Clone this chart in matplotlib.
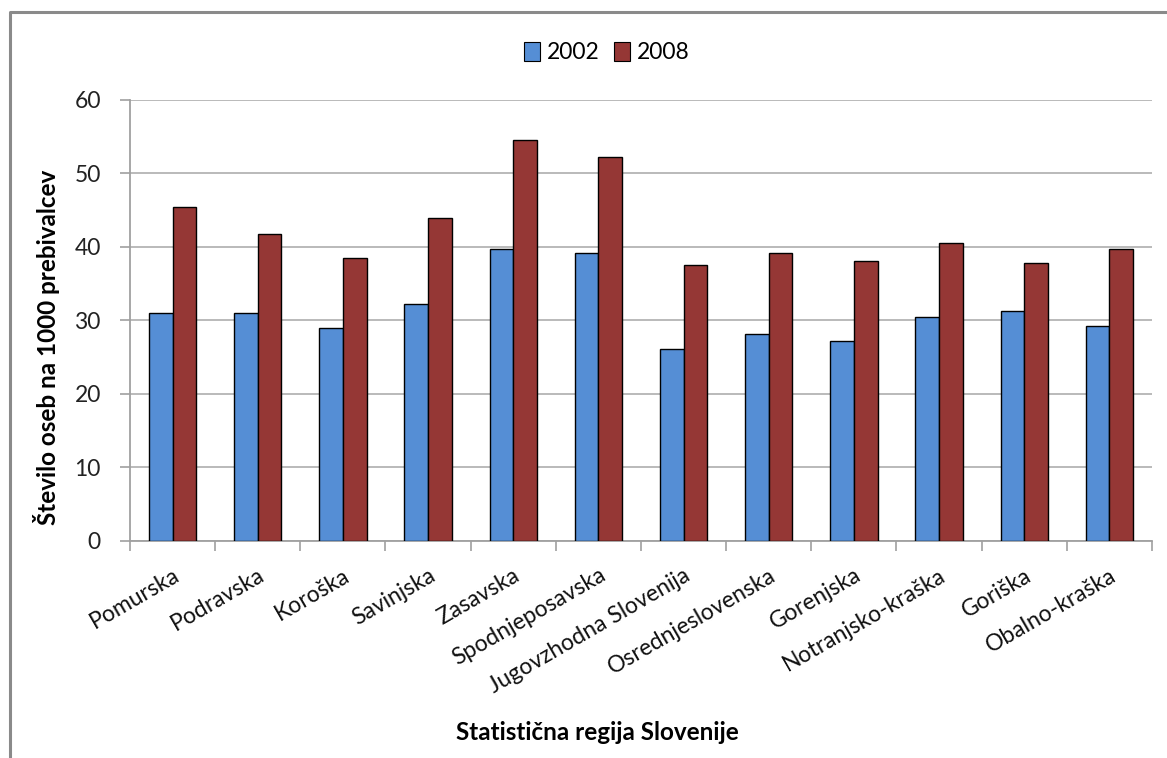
"""Bar chart of persons per 1000 inhabitants by Slovenian statistical region, 2002 vs 2008."""
import numpy as np
import matplotlib.pyplot as plt
from matplotlib.lines import Line2D

plt.rcParams['font.family'] = ['Lato', 'DejaVu Sans']

regions = ['Pomurska', 'Podravska', 'Koroška', 'Savinjska', 'Zasavska',
           'Spodnjeposavska', 'Jugovzhodna Slovenija', 'Osrednjeslovenska',
           'Gorenjska', 'Notranjsko-kraška', 'Goriška', 'Obalno-kraška']
vals_2002 = [31.0, 31.0, 29.0, 32.2, 39.7, 39.2, 26.1, 28.1, 27.2, 30.5, 31.3, 29.3]
vals_2008 = [45.5, 41.8, 38.5, 43.9, 54.6, 52.3, 37.6, 39.2, 38.1, 40.6, 37.8, 39.7]
years = ['2002', '2008']
colors = ['#558ED5', '#953735']
yticks = [0, 10, 20, 30, 40, 50, 60]

fig = plt.figure(figsize=(11.67, 7.58), dpi=100)
ax = fig.add_axes([0.1114, 0.2863, 0.8757, 0.5818])

x = np.arange(len(regions))
w = 0.278
ax.bar(x - w / 2, vals_2002, w, color=colors[0], edgecolor='black',
       linewidth=1.0, zorder=3)
ax.bar(x + w / 2, vals_2008, w, color=colors[1], edgecolor='black',
       linewidth=1.0, zorder=3)

ax.set_xlim(-0.5, len(regions) - 0.5)
ax.set_ylim(0, 60)
ax.set_yticks(yticks)
ax.set_yticklabels([str(t) for t in yticks], fontsize=16.5, color='#222222')
ax.yaxis.grid(True, color='#B4B4B4', linewidth=1.3, zorder=0)
ax.set_axisbelow(True)

# category labels at centres, tick marks between categories
ax.set_xticks(x)
ax.set_xticklabels(regions, rotation=30, ha='right', rotation_mode='anchor',
                   fontsize=16.5, color='#111111')
ax.tick_params(axis='x', which='major', length=0, pad=17)
ax.set_xticks(np.arange(len(regions) + 1) - 0.5, minor=True)
ax.tick_params(axis='x', which='minor', length=7, color='#A0A0A0', width=1.2)
ax.tick_params(axis='y', length=7, color='#A0A0A0', width=1.2, pad=14)

for side in ['top', 'right']:
    ax.spines[side].set_visible(False)
for side in ['left', 'bottom']:
    ax.spines[side].set_color('#A0A0A0')
    ax.spines[side].set_linewidth(1.3)

fig.text(0.040, 0.542, 'Število oseb na 1000 prebivalcev', rotation=90,
         ha='center', va='center', fontsize=17.5, fontweight='bold')
fig.text(0.512, 0.034, 'Statistična regija Slovenije', ha='center',
         va='center', fontsize=17.5, fontweight='bold')

handles = [plt.Rectangle((0, 0), 1, 1, facecolor=c, edgecolor='black',
                         linewidth=0.8) for c in colors]
fig.legend(handles, years, loc='center', bbox_to_anchor=(0.52, 0.931),
           ncol=2, frameon=False, fontsize=16.5, handlelength=0.7,
           handleheight=0.9, handletextpad=0.3, columnspacing=0.6)

# chart area border (top and left edges visible)
fig.add_artist(Line2D([10 / 1167, 10 / 1167, 1.0], [0.0, 1 - 12 / 758, 1 - 12 / 758],
                      transform=fig.transFigure, color='#8A8A8A', linewidth=2.2))

fig.savefig('out.png', dpi=100)
